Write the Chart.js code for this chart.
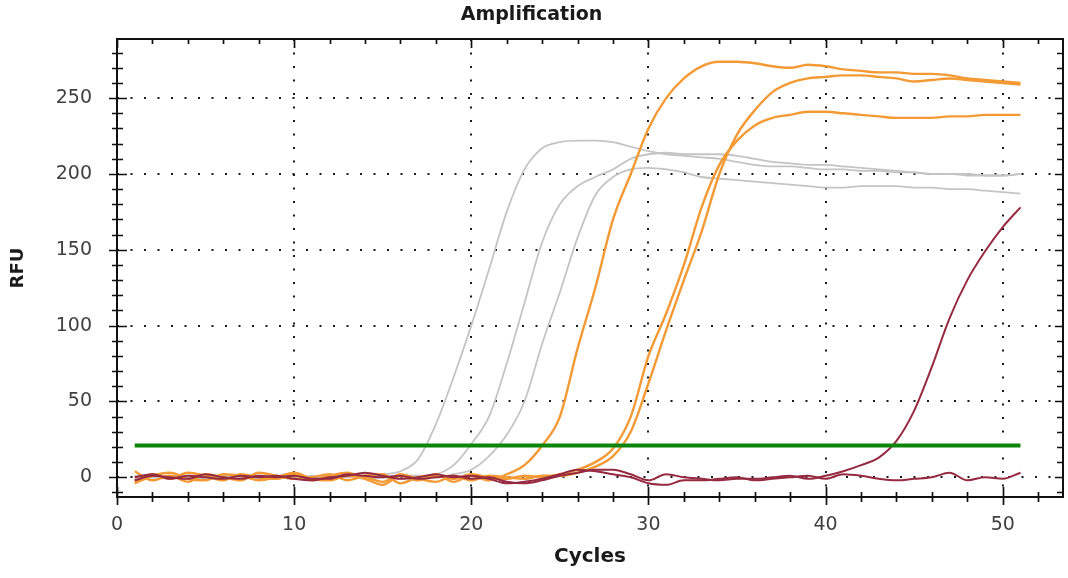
<!DOCTYPE html>
<html>
<head>
<meta charset="utf-8">
<title>Amplification</title>
<script src="https://cdn.jsdelivr.net/npm/chart.js@4/dist/chart.umd.min.js"></script>
<style>
  html, body { margin: 0; padding: 0; background: #fff; }
  #wrap { width: 1068px; height: 578px; }
</style>
</head>
<body>
<div id="wrap"><canvas id="chart" width="1068" height="578"></canvas></div>
<script>
// Cycle numbers
const cycles = Array.from({ length: 51 }, (_, i) => i + 1);

// Gray wells (early Cq)
const gray1 = [1, 0, -1, 1, 0, 1, 0, -1, 1, 0, 0, 1, 0, 1, 2, 4, 12, 35, 66, 100, 137, 175, 203, 217, 221, 222, 222, 221, 218, 215, 213, 212, 211, 210, 208, 206, 205, 205, 204, 203, 203, 202, 202, 201, 201, 200, 200, 200, 199, 199, 200];
const gray2 = [0, 1, 0, -1, 1, 0, 1, 0, -1, 1, 0, 0, 1, -1, 0, 1, 1, 2, 8, 22, 40, 75, 115, 155, 180, 192, 198, 203, 210, 213, 214, 213, 213, 213, 212, 210, 208, 207, 206, 206, 205, 204, 203, 202, 201, 200, 200, 199, 199, 199, 200];
const gray3 = [-1, 0, 1, 0, -1, 0, 1, 1, 0, -1, 1, 0, 0, 1, 0, -1, 1, 0, 2, 5, 14, 28, 50, 88, 122, 158, 186, 198, 203, 204, 203, 201, 198, 197, 196, 195, 194, 193, 192, 191, 191, 192, 192, 192, 191, 191, 190, 190, 189, 188, 187];

// Orange wells
const orange1 = [-3, 2, -1, 3, 1, -2, 2, 0, -1, 2, -2, 1, 3, -1, -5, 1, -2, 2, -3, 1, -2, 2, 8, 21, 40, 85, 125, 170, 200, 230, 250, 263, 271, 274, 274, 273, 271, 270, 272, 271, 269, 268, 267, 267, 266, 266, 265, 263, 262, 261, 260];
const orange2 = [-4, 1, 3, -1, -2, 2, 1, -2, 0, 3, -1, -2, 1, 0, -3, 2, -1, -3, 1, -2, 1, 0, -1, 1, 1, 3, 7, 14, 30, 62, 97, 130, 162, 200, 226, 242, 254, 260, 263, 264, 265, 265, 264, 263, 261, 262, 263, 262, 261, 260, 259];
const orange3 = [4, -2, 1, -3, 2, 0, -2, 3, 1, -1, 0, 2, -2, 1, 2, -4, 0, 1, -1, 2, 0, -1, 1, 0, 2, 5, 10, 19, 40, 80, 108, 140, 178, 206, 222, 232, 237, 239, 241, 241, 240, 239, 238, 237, 237, 237, 238, 238, 239, 239, 239];

// Dark red wells
const red1 = [0, 2, -1, 1, 0, -1, 1, 0, 1, -1, -2, 0, 1, 3, 1, -1, 0, 2, 0, 1, -1, -4, -3, -1, 2, 5, 4, 2, 0, -4, -5, -2, -2, -1, 0, -2, -1, 0, 1, -1, 2, 1, -1, -2, -1, 0, 3, -2, 0, -1, 3];
const red2 = [-2, 1, 0, -1, 2, 0, -1, 1, 0, 1, -1, -1, 2, 1, 0, 1, -1, 0, 1, -1, 0, -3, -4, -2, 1, 3, 5, 5, 2, -2, 2, 0, -1, -2, -1, -1, 0, 1, -1, 1, 4, 8, 13, 24, 44, 73, 105, 130, 149, 165, 178];

// Threshold
const thresholdRFU = 21;
const thresholdSpan = [1, 51];

// Axis settings
const xTickValues = [0, 10, 20, 30, 40, 50];
const yTickValues = [0, 50, 100, 150, 200, 250];

const pts = vals => cycles.map((c, i) => ({ x: c, y: vals[i] }));

const FONT = "'DejaVu Sans', Verdana, sans-serif";

function curve(vals, color, width) {
  return {
    data: pts(vals),
    borderColor: color,
    borderWidth: width,
    pointRadius: 0,
    fill: false,
    cubicInterpolationMode: 'monotone'
  };
}

const datasets = [
  {
    data: thresholdSpan.map(c => ({ x: c, y: thresholdRFU })),
    borderColor: '#0b850b',
    borderWidth: 4,
    pointRadius: 0,
    fill: false
  },
  curve(red1, '#962a40', 2),
  curve(red2, '#962a40', 2),
  curve(orange1, '#f39a35', 2.4),
  curve(orange2, '#f39a35', 2.4),
  curve(orange3, '#f39a35', 2.4),
  curve(gray1, '#c4c4c4', 1.8),
  curve(gray2, '#c4c4c4', 1.8),
  curve(gray3, '#c4c4c4', 1.8)
];

// Plot frame with minor/major tick marks on all four sides
const framePlugin = {
  id: 'frame',
  afterDraw(chart) {
    const { ctx, chartArea: a, scales: { x, y } } = chart;
    ctx.save();
    ctx.strokeStyle = '#111';
    ctx.lineWidth = 2;
    ctx.strokeRect(a.left, a.top, a.right - a.left, a.bottom - a.top);
    ctx.lineWidth = 1.7;
    ctx.beginPath();
    for (let v = 0; v <= Math.floor(x.max); v += 2) {
      const px = Math.round(x.getPixelForValue(v)) + 0.5;
      const major = v % 10 === 0;
      ctx.moveTo(px, a.bottom - (major ? 10 : 5));
      ctx.lineTo(px, a.bottom + (major ? 8 : 5));
      ctx.moveTo(px, a.top);
      ctx.lineTo(px, a.top + (major ? 9 : 5));
    }
    for (let v = -10; v <= Math.floor(y.max); v += 10) {
      const py = Math.round(y.getPixelForValue(v)) + 0.5;
      const major = v % 50 === 0;
      ctx.moveTo(a.left - (major ? 8 : 5), py);
      ctx.lineTo(a.left + (major ? 10 : 6), py);
      ctx.moveTo(a.right, py);
      ctx.lineTo(a.right - (major ? 8 : 6), py);
    }
    ctx.stroke();
    ctx.restore();
  }
};

new Chart(document.getElementById('chart'), {
  type: 'line',
  data: { datasets },
  options: {
    responsive: false,
    animation: false,
    events: [],
    layout: { padding: { top: 0, left: 0, right: 5, bottom: 0 } },
    plugins: {
      legend: { display: false },
      tooltip: { enabled: false },
      title: {
        display: true,
        text: 'Amplification',
        color: '#1a1a1a',
        font: { family: FONT, size: 19, weight: 'bold' },
        padding: { top: 4, bottom: 12.2 }
      }
    },
    scales: {
      x: {
        type: 'linear',
        bounds: 'data',
        min: 0,
        max: 53.4,
        afterBuildTicks: s => { s.ticks = xTickValues.map(v => ({ value: v })); },
        afterFit: s => { s.height = 81; },
        ticks: {
          color: '#404040',
          font: { family: FONT, size: 19 },
          padding: 17,
          maxRotation: 0
        },
        grid: { color: '#1a1a1a', lineWidth: 2, drawTicks: false },
        border: { display: false, dash: [2, 11.5] },
        title: {
          display: true,
          text: 'Cycles',
          color: '#1a1a1a',
          font: { family: FONT, size: 20, weight: 'bold' },
          padding: { top: 0, bottom: 9 }
        }
      },
      y: {
        type: 'linear',
        bounds: 'data',
        min: -13,
        max: 289,
        afterBuildTicks: s => { s.ticks = yTickValues.map(v => ({ value: v })); },
        afterFit: s => { s.width = 117; },
        ticks: {
          color: '#404040',
          font: { family: FONT, size: 19 },
          padding: 25
        },
        grid: { color: '#1a1a1a', lineWidth: 2, drawTicks: false },
        border: { display: false, dash: [2, 11.5] },
        title: {
          display: true,
          text: 'RFU',
          color: '#1a1a1a',
          font: { family: FONT, size: 18, weight: 'bold' },
          padding: { top: 8, bottom: 0 }
        }
      }
    }
  },
  plugins: [framePlugin]
});
</script>
</body>
</html>
